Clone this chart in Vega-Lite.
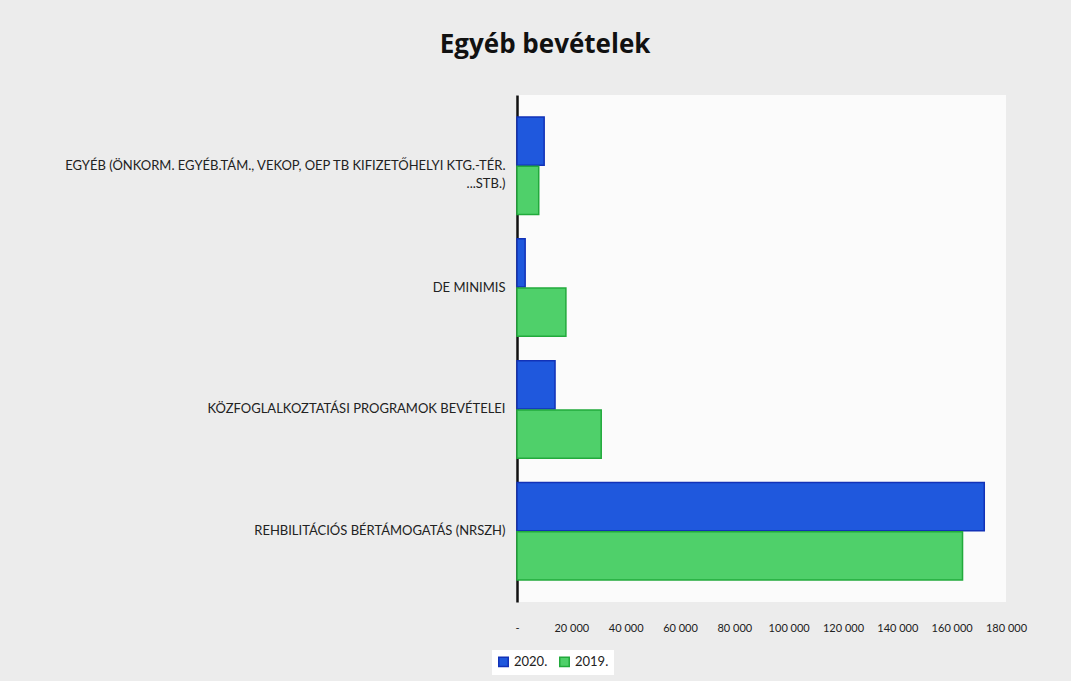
{
  "$schema": "https://vega.github.io/schema/vega-lite/v6.json",
  "autosize": {"type": "fit", "contains": "padding"},
  "width": 1071,
  "height": 681,
  "padding": {"left": 63, "top": 32, "right": 44, "bottom": 48},
  "background": "#ececec",
  "title": {"text": "Egyéb bevételek", "fontSize": 26, "font": "Open Sans", "fontWeight": "bold", "color": "#111111", "offset": 37, "anchor": "middle", "frame": "bounds", "dx": 0},
  "data": {"values": [
    {"cat": "EGYÉB (ÖNKORM. EGYÉB.TÁM., VEKOP, OEP TB KIFIZETŐHELYI KTG.-TÉR. ...STB.)", "year": "2020.", "value": 10000},
    {"cat": "EGYÉB (ÖNKORM. EGYÉB.TÁM., VEKOP, OEP TB KIFIZETŐHELYI KTG.-TÉR. ...STB.)", "year": "2019.", "value": 8000},
    {"cat": "DE MINIMIS", "year": "2020.", "value": 3000},
    {"cat": "DE MINIMIS", "year": "2019.", "value": 18000},
    {"cat": "KÖZFOGLALKOZTATÁSI PROGRAMOK BEVÉTELEI", "year": "2020.", "value": 14000},
    {"cat": "KÖZFOGLALKOZTATÁSI PROGRAMOK BEVÉTELEI", "year": "2019.", "value": 31000},
    {"cat": "REHBILITÁCIÓS BÉRTÁMOGATÁS (NRSZH)", "year": "2020.", "value": 172000},
    {"cat": "REHBILITÁCIÓS BÉRTÁMOGATÁS (NRSZH)", "year": "2019.", "value": 164000}
  ]},
  "mark": {"type": "bar", "strokeWidth": 1.5},
  "encoding": {
    "y": {
      "field": "cat", "type": "nominal",
      "sort": ["EGYÉB (ÖNKORM. EGYÉB.TÁM., VEKOP, OEP TB KIFIZETŐHELYI KTG.-TÉR. ...STB.)", "DE MINIMIS", "KÖZFOGLALKOZTATÁSI PROGRAMOK BEVÉTELEI", "REHBILITÁCIÓS BÉRTÁMOGATÁS (NRSZH)"],
      "scale": {"paddingInner": 0.2, "paddingOuter": 0.18},
      "axis": {
        "title": null, "ticks": false, "domainColor": "#111111", "domainWidth": 2.5,
        "labelFont": "Lato", "labelFontSize": 13, "labelColor": "#222222",
        "labelLimit": 600, "labelPadding": 12, "labelLineHeight": 18,
        "labelExpr": "indexof(datum.label, 'EGYÉB') == 0 ? ['EGYÉB (ÖNKORM. EGYÉB.TÁM., VEKOP, OEP TB KIFIZETŐHELYI KTG.-TÉR.', '...STB.)'] : datum.label"
      }
    },
    "yOffset": {"field": "year", "type": "nominal", "sort": ["2020.", "2019."], "scale": {"paddingInner": 0.02}},
    "x": {
      "field": "value", "type": "quantitative",
      "scale": {"domain": [0, 180000], "nice": false},
      "axis": {
        "title": null, "grid": false, "domain": false, "ticks": false, "labelOverlap": false, "labelBound": false, "labelFlush": false,
        "values": [0, 20000, 40000, 60000, 80000, 100000, 120000, 140000, 160000, 180000],
        "labelFont": "Lato", "labelFontSize": 11, "labelColor": "#222222", "labelPadding": 20,
        "labelExpr": "datum.value == 0 ? '-' : replace(format(datum.value, ','), ',', ' ')"
      }
    },
    "color": {
      "field": "year", "type": "nominal", "sort": ["2020.", "2019."],
      "scale": {"domain": ["2020.", "2019."], "range": ["#1f58dd", "#4fd06a"]},
      "legend": {"title": null, "orient": "none", "legendX": -25, "legendY": 555, "direction": "horizontal", "symbolType": "square", "symbolSize": 90, "labelFont": "Lato", "labelFontSize": 13, "labelColor": "#222222", "fillColor": "#ffffff", "padding": 5, "columnPadding": 8}
    },
    "stroke": {
      "field": "year", "type": "nominal",
      "scale": {"domain": ["2020.", "2019."], "range": ["#1232b8", "#22aa3c"]},
      "legend": null
    }
  },
  "config": {"view": {"fill": "#fbfbfb", "stroke": null}}
}
